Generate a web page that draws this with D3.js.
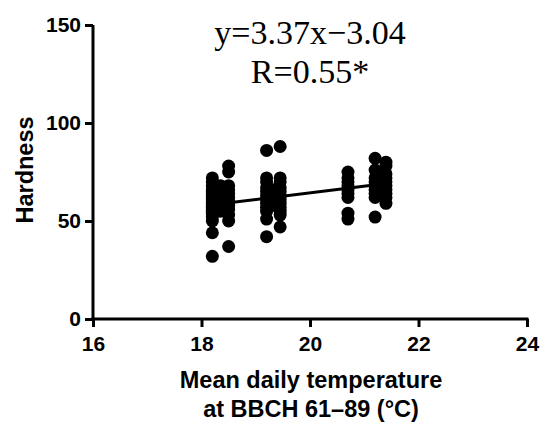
<!DOCTYPE html>
<html><head><meta charset="utf-8">
<script src="https://cdn.jsdelivr.net/npm/d3@7"></script>
<style>body{margin:0;background:#fff}</style>
</head><body>
<script>
// Data
const temps1 = [18.2, 18.35, 18.5];
const vals1 = [
  [32, 44, 50, 52, 54, 55, 56, 57, 58, 59, 60, 61, 62, 63, 64, 65, 66, 68, 70, 72],
  [55, 58, 60, 62, 64, 66, 68],
  [37, 50, 53, 56, 58, 60, 62, 64, 66, 68, 75, 78]
];
const temps2 = [19.2, 19.32, 19.45];
const vals2 = [
  [42, 51, 55, 57, 59, 61, 63, 65, 67, 70, 72, 86],
  [58, 62, 66],
  [47, 53, 55, 57, 59, 61, 63, 65, 67, 70, 72, 88]
];
const temps3 = [20.7];
const vals3 = [[51, 54, 62, 64, 66, 68, 70, 72, 75]];
const temps4 = [21.2, 21.3, 21.4];
const vals4 = [
  [52, 62, 64, 66, 68, 70, 72, 76, 82],
  [65, 68, 71],
  [59, 62, 64, 66, 68, 70, 72, 74, 78, 80]
];
const xTicks = [16, 18, 20, 22, 24];
const yTicks = [0, 50, 100, 150];
const slope = 3.37, intercept = -3.04;
const eqLabel = "y=3.37x\u22123.04";
const rLabel = "R=0.55*";

const points = [];
[[temps1, vals1], [temps2, vals2], [temps3, vals3], [temps4, vals4]].forEach(([ts, vs]) => {
  ts.forEach((t, i) => vs[i].forEach(v => points.push({t, v})));
});

const W = 550, H = 434;
const svg = d3.select("body").append("svg").attr("width", W).attr("height", H);
const x = d3.scaleLinear().domain([16, 24]).range([93, 527]);
const y = d3.scaleLinear().domain([0, 150]).range([319, 25]);

const font = "'Liberation Sans', Arial, sans-serif";
const serif = "'Liberation Serif', 'Times New Roman', serif";

// axes
const xAxis = svg.append("g").attr("transform", "translate(0,319)")
  .call(d3.axisBottom(x).tickValues(xTicks).tickFormat(d3.format("d")).tickSize(8).tickSizeOuter(0).tickPadding(9));
const yAxis = svg.append("g").attr("transform", "translate(93,0)")
  .call(d3.axisLeft(y).tickValues(yTicks).tickFormat(d3.format("d")).tickSize(8).tickSizeOuter(0).tickPadding(4));
[xAxis, yAxis].forEach(g => {
  g.attr("font-size", null).attr("font-family", null);
  g.select(".domain").attr("stroke", "#000").attr("stroke-width", 3);
  g.selectAll(".tick line").attr("stroke", "#000").attr("stroke-width", 3);
  g.selectAll(".tick text").attr("fill", "#000").style("font-family", font)
    .style("font-weight", "bold").style("font-size", "21px");
});
// extend domains so corners join
xAxis.select(".domain").attr("d", `M${x(16)-1.5},0H${x(24)+1.5}`);
yAxis.select(".domain").attr("d", `M0,${y(150)}V${y(0)+1.5}`);

// regression line
const tExt = d3.extent(points, d => d.t);
svg.append("line")
  .attr("x1", x(tExt[0])).attr("y1", y(slope * tExt[0] + intercept))
  .attr("x2", x(tExt[1])).attr("y2", y(slope * tExt[1] + intercept))
  .attr("stroke", "#000").attr("stroke-width", 3);

// points
svg.append("g").selectAll("circle").data(points).join("circle")
  .attr("cx", d => x(d.t)).attr("cy", d => y(d.v)).attr("r", 6.5).attr("fill", "#000");

// annotations
svg.append("text").attr("x", 310).attr("y", 44).attr("text-anchor", "middle")
  .style("font-family", serif).style("font-size", "34px").text(eqLabel);
svg.append("text").attr("x", 310).attr("y", 83).attr("text-anchor", "middle")
  .style("font-family", serif).style("font-size", "34px").text(rLabel);

// axis titles
svg.append("text").attr("transform", "translate(33,170) rotate(-90)").attr("text-anchor", "middle")
  .style("font-family", font).style("font-weight", "bold").style("font-size", "23.5px").text("Hardness");
svg.append("text").attr("x", 311).attr("y", 388).attr("text-anchor", "middle")
  .style("font-family", font).style("font-weight", "bold").style("font-size", "23.5px").text("Mean daily temperature");
svg.append("text").attr("x", 311).attr("y", 417).attr("text-anchor", "middle")
  .style("font-family", font).style("font-weight", "bold").style("font-size", "23.5px").text("at BBCH 61\u201389 (\u00B0C)");
</script>
</body></html>
